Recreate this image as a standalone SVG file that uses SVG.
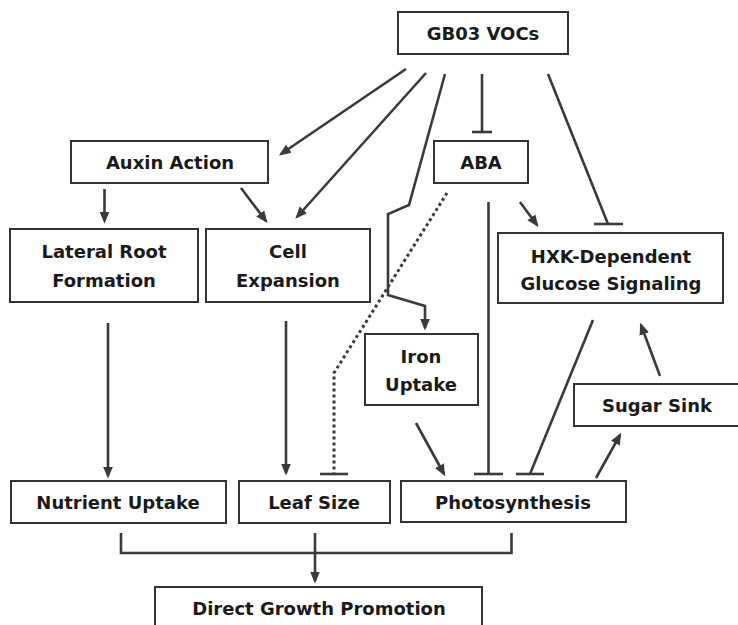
<svg xmlns="http://www.w3.org/2000/svg" width="738" height="625" viewBox="0 0 738 625">
<style>
.box{fill:#fff;stroke:#333;stroke-width:2}
.lbl{font-family:"DejaVu Sans","Liberation Sans",sans-serif;font-weight:bold;font-size:18px;fill:#1a1a1a;text-anchor:middle}
.ln{fill:none;stroke:#3a3a3a;stroke-width:2.6}
.arr{marker-end:url(#ah)}
.dot{stroke-dasharray:3 3;stroke-width:3}
</style>
<defs>
<marker id="ah" markerUnits="userSpaceOnUse" markerWidth="13" markerHeight="11" refX="9.5" refY="5.5" orient="auto">
<path d="M0,0.5 L12,5.5 L0,10.5 z" fill="#3a3a3a"/>
</marker>
</defs>
<rect width="738" height="625" fill="#fff"/>
<g id="connectors">
<line class="ln arr" x1="406" y1="69" x2="281" y2="154"/>
<line class="ln arr" x1="426" y1="73" x2="297" y2="217"/>
<polyline class="ln arr" points="445,74 409,205 388,214 388,295 425,306 425,328"/>
<line class="ln" x1="482" y1="74" x2="482" y2="132"/>
<line class="ln" x1="472" y1="132" x2="492" y2="132"/>
<line class="ln" x1="548" y1="74" x2="608" y2="224"/>
<line class="ln" x1="594" y1="224" x2="623" y2="224"/>
<line class="ln arr" x1="104.5" y1="189" x2="104.5" y2="221"/>
<line class="ln arr" x1="241" y1="188" x2="266" y2="221"/>
<polyline class="ln dot" points="447,193 334,373 334,474"/>
<line class="ln" x1="320" y1="474" x2="348" y2="474"/>
<line class="ln" x1="488.5" y1="202" x2="488.5" y2="474"/>
<line class="ln" x1="474" y1="474" x2="503" y2="474"/>
<line class="ln arr" x1="520" y1="202" x2="537" y2="225"/>
<line class="ln arr" x1="108" y1="323" x2="108" y2="476"/>
<line class="ln arr" x1="286" y1="321" x2="286" y2="473"/>
<line class="ln" x1="593" y1="320" x2="530" y2="474"/>
<line class="ln" x1="516" y1="474" x2="544" y2="474"/>
<line class="ln arr" x1="660" y1="376" x2="641" y2="325"/>
<line class="ln arr" x1="596" y1="478" x2="620" y2="435"/>
<line class="ln arr" x1="416" y1="423" x2="444" y2="474"/>
<polyline class="ln" points="121,533 121,553 511.5,553 511.5,533"/>
<line class="ln arr" x1="315" y1="533" x2="315" y2="581"/>
</g>
<g id="gb03"><rect class="box" x="398" y="12" width="170" height="42"/><text class="lbl" x="483" y="40">GB03 VOCs</text></g>
<g id="auxin"><rect class="box" x="71" y="141" width="197" height="42"/><text class="lbl" x="170" y="169">Auxin Action</text></g>
<g id="aba"><rect class="box" x="434" y="141" width="94" height="42"/><text class="lbl" x="481" y="169">ABA</text></g>
<g id="lateral-root"><rect class="box" x="10" y="229" width="188" height="73"/><text class="lbl" x="104" y="258">Lateral Root</text><text class="lbl" x="104" y="287">Formation</text></g>
<g id="cell-expansion"><rect class="box" x="206" y="229" width="164" height="73"/><text class="lbl" x="288" y="258">Cell</text><text class="lbl" x="288" y="287">Expansion</text></g>
<g id="hxk"><rect class="box" x="498" y="233" width="225" height="70"/><text class="lbl" x="611" y="263">HXK-Dependent</text><text class="lbl" x="611" y="290">Glucose Signaling</text></g>
<g id="iron"><rect class="box" x="365" y="334" width="113" height="71"/><text class="lbl" x="421" y="363">Iron</text><text class="lbl" x="421" y="391">Uptake</text></g>
<g id="sugar-sink"><rect class="box" x="574" y="384" width="175" height="42"/><text class="lbl" x="657" y="412">Sugar Sink</text></g>
<g id="nutrient"><rect class="box" x="11" y="481" width="215" height="42"/><text class="lbl" x="118" y="509">Nutrient Uptake</text></g>
<g id="leaf-size"><rect class="box" x="239" y="481" width="151" height="42"/><text class="lbl" x="314" y="509">Leaf Size</text></g>
<g id="photosynthesis"><rect class="box" x="401" y="481" width="225" height="41"/><text class="lbl" x="513" y="509">Photosynthesis</text></g>
<g id="direct-growth"><rect class="box" x="155" y="587" width="327" height="45"/><text class="lbl" x="319" y="615">Direct Growth Promotion</text></g>
</svg>
